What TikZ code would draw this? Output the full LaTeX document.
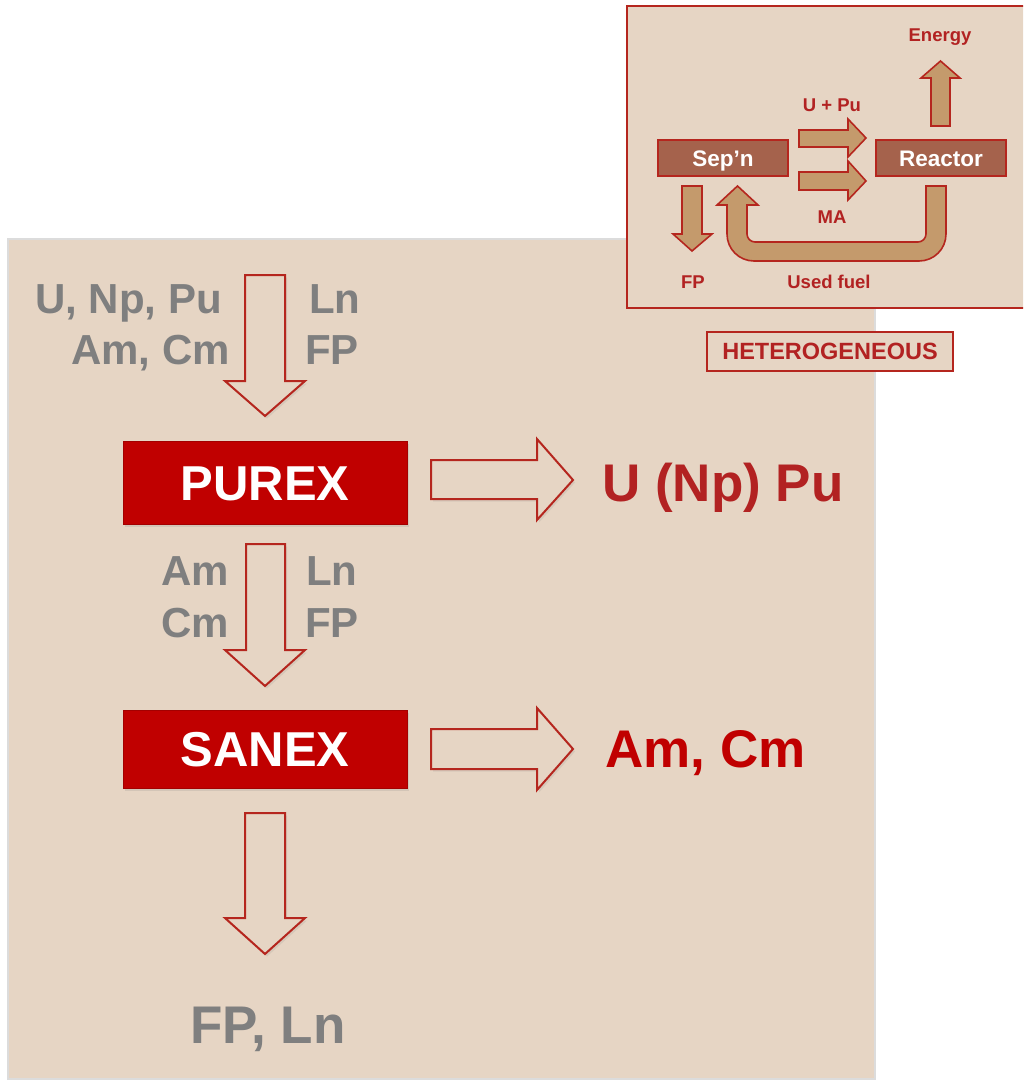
\documentclass[tikz,border=0pt]{standalone}
\usepackage{fontspec}
\setmainfont{Liberation Sans}
\usetikzlibrary{shadows}
\definecolor{bgc}{HTML}{E6D5C4}
\definecolor{boxred}{HTML}{C00000}
\definecolor{linered}{HTML}{B5261E}
\definecolor{txtred}{HTML}{B22222}
\definecolor{txtgray}{HTML}{7F7F7F}
\definecolor{sepfill}{HTML}{A5624C}
\definecolor{tanfill}{HTML}{C49A6C}
\definecolor{panelgray}{HTML}{DCDCDC}
\newcommand{\fsz}[1]{\fontsize{#1}{#1}\selectfont\bfseries}
\tikzset{
  x=1pt, y=-1pt,
  procbox/.style={fill=boxred, draw=boxred!85!black, line width=0.8pt, text=white, inner sep=0,
    text height=35pt, text depth=0pt,
    drop shadow={shadow xshift=2pt, shadow yshift=-2.5pt, opacity=0.18}},
  bigarrow/.style={fill=bgc, draw=linered, line width=2pt, line join=miter,
    drop shadow={shadow xshift=2pt, shadow yshift=-2.5pt, opacity=0.15}},
  smallarrow/.style={fill=tanfill, draw=linered, line width=1.6pt, line join=miter},
  graylbl/.style={text=txtgray, inner sep=0, font=\fsz{42}},
  redlbl/.style={inner sep=0, font=\fsz{53}},
  insetlbl/.style={text=txtred, inner sep=0, anchor=base, font=\fsz{18.5}},
  insetbox/.style={fill=sepfill, draw=linered, line width=1.6pt, text=white, inner sep=0,
    minimum width=130pt, minimum height=36pt, text height=16pt, text depth=0pt, font=\fsz{22.5}},
}
\begin{document}
\begin{tikzpicture}
\useasboundingbox (0,0) rectangle (1023,1081);
\clip (0,0) rectangle (1023,1081);
\fill[white] (0,0) rectangle (1023,1081);
% main panel
\draw[fill=bgc, draw=panelgray, line width=1.5pt] (8,239) rectangle (875,1079);

% input labels
\node[graylbl, anchor=base east] (in1) at (222,313) {U, Np, Pu};
\node[graylbl, anchor=base east] (in2) at (230,364) {Am, Cm};
\node[graylbl, anchor=base west] (in3) at (309,313) {Ln};
\node[graylbl, anchor=base west] (in4) at (305,364) {FP};
% arrow 1
\draw[bigarrow] (245,275) -- (285,275) -- (285,381) -- (305,381) -- (265,416) -- (225,381) -- (245,381) -- cycle;
% PUREX
\node[procbox, minimum width=284pt, minimum height=83pt, font=\fsz{49}] (purex) at (265,482.5) {PUREX};
% right arrow 1
\draw[bigarrow] (431,460) -- (537,460) -- (537,439) -- (573,480) -- (537,520) -- (537,499) -- (431,499) -- cycle;
\node[redlbl, text=txtred, anchor=base west] (out1) at (602,501) {U (Np) Pu};

% mid labels
\node[graylbl, anchor=base east] (m1) at (229,585) {Am};
\node[graylbl, anchor=base east] (m2) at (229,637) {Cm};
\node[graylbl, anchor=base west] (m3) at (306,585) {Ln};
\node[graylbl, anchor=base west] (m4) at (305,637) {FP};
% arrow 2
\draw[bigarrow] (246,544) -- (285,544) -- (285,650) -- (305,650) -- (265,686) -- (225,650) -- (246,650) -- cycle;
% SANEX
\node[procbox, minimum width=284pt, minimum height=78pt, font=\fsz{49}] (sanex) at (265,749) {SANEX};
% right arrow 2
\draw[bigarrow] (431,729) -- (537,729) -- (537,708) -- (573,749) -- (537,790) -- (537,769) -- (431,769) -- cycle;
\node[redlbl, text=boxred, anchor=base west] (out2) at (605,767) {Am, Cm};

% arrow 3
\draw[bigarrow] (245,813) -- (285,813) -- (285,918) -- (305,918) -- (265,954) -- (225,918) -- (245,918) -- cycle;
\node[redlbl, text=txtgray, anchor=base] (out3) at (268,1043) {FP, Ln};

% ===== inset =====
\draw[fill=bgc, draw=linered, line width=2pt] (627,6) rectangle (1040,308);
\node[insetbox] (sep) at (723,158) {Sep’n};
\node[insetbox] (reac) at (941,158) {Reactor};
% U+Pu arrow
\draw[smallarrow] (799,130) -- (848,130) -- (848,119) -- (866,138) -- (848,157) -- (848,147) -- (799,147) -- cycle;
% MA arrow
\draw[smallarrow] (799,172) -- (848,172) -- (848,161) -- (866,181) -- (848,200) -- (848,190) -- (799,190) -- cycle;
% Energy arrow
\draw[smallarrow] (931,126) -- (931,78) -- (921,78) -- (940.5,61) -- (960,78) -- (950,78) -- (950,126) -- cycle;
% FP arrow
\draw[smallarrow] (682,186) -- (702,186) -- (702,234) -- (712,234) -- (692,251) -- (673,234) -- (682,234) -- cycle;
% used fuel U arrow
\draw[smallarrow] (946,186) -- (946,234) .. controls (946,249) and (934,261) .. (919,261) -- (754,261)
  .. controls (739,261) and (727,249) .. (727,234) -- (727,205) -- (717,205) -- (737.5,186) -- (758,205) -- (747,205)
  -- (747,234) .. controls (747,238.4) and (750.6,242) .. (755,242) -- (918,242)
  .. controls (922.4,242) and (926,238.4) .. (926,234) -- (926,186) -- cycle;
\node[insetlbl] (energy) at (940,42) {Energy};
\node[insetlbl] (upu) at (832,111) {U + Pu};
\node[insetlbl] (ma) at (832,223) {MA};
\node[insetlbl] (fp) at (693,288) {FP};
\node[insetlbl] (used) at (829,288) {Used fuel};
% heterogeneous
\node[draw=linered, fill=bgc, line width=1.5pt, text=txtred, inner sep=0, minimum width=246pt, minimum height=39pt, font=\fsz{23.5}] (het) at (830,351.5) {HETEROGENEOUS};
\end{tikzpicture}
\end{document}
